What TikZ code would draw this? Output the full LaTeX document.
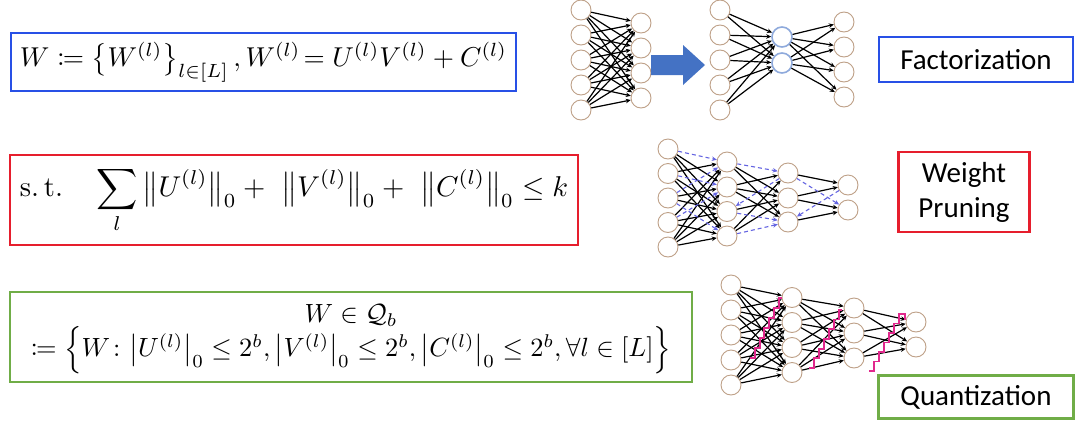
\documentclass[tikz,border=0pt]{standalone}
\usepackage{amsmath,amssymb,mathtools,graphicx}
\usepackage{fontspec}
\newfontfamily\calib{Carlito}
\usetikzlibrary{arrows.meta}
\definecolor{boxblue}{RGB}{40,80,230}
\definecolor{boxred}{RGB}{230,30,45}
\definecolor{boxgreen}{RGB}{112,173,71}
\definecolor{nodebrown}{RGB}{190,160,135}
\definecolor{midblue}{RGB}{143,170,220}
\definecolor{arrowblue}{RGB}{68,114,196}
\definecolor{dashblue}{RGB}{100,100,225}
\definecolor{stairpink}{RGB}{225,40,140}
\tikzset{
  nn/.style={circle,draw=nodebrown,line width=0.9pt,fill=white,minimum size=20pt,inner sep=0pt},
  mn/.style={circle,draw=midblue,line width=1.6pt,fill=white,minimum size=20pt,inner sep=0pt},
  edge/.style={draw=black,line width=1.2pt,-{Stealth[length=5pt,width=4.5pt]}},
  dedge/.style={draw=dashblue,line width=1.1pt,dash pattern=on 4pt off 3pt,-{Stealth[length=5pt,width=4.5pt]}},
  stair/.style={draw=stairpink,line width=1.9pt},
  fbox/.style={rectangle,line width=2.5pt,inner sep=0pt},
  lbox/.style={rectangle,line width=2.5pt,inner sep=0pt,font=\calib\fontsize{29}{35}\selectfont,align=center},
}
\begin{document}
\begin{tikzpicture}[x=1pt,y=-1pt]
\useasboundingbox (0,0) rectangle (1080,429);
% ---------- formulas ----------
\node[fbox,draw=boxblue,minimum width=505pt,minimum height=58pt] (f1) at (263.5,62)
 {\resizebox{487pt}{!}{$W \coloneqq \left\{W^{(l)}\right\}_{l\in[L]}, W^{(l)}\!= U^{(l)}V^{(l)} + C^{(l)}$}};
\node[fbox,draw=boxred,minimum width=568pt,minimum height=90pt] (f2) at (294,200)
 {\resizebox{548pt}{!}{$\displaystyle \mathrm{s.\,t.}\quad \sum_{l}\big\|U^{(l)}\big\|_0 +\ \big\|V^{(l)}\big\|_0 +\ \big\|C^{(l)}\big\|_0 \le k$}};
\node[fbox,draw=boxgreen,minimum width=682pt,minimum height=90pt] (f3) at (351,337)
 {\resizebox{667pt}{!}{$\begin{array}{c} W\in\mathcal{Q}_b\\[-2pt] \coloneqq\Bigl\{W\colon \big|U^{(l)}\big|_0\le 2^b, \big|V^{(l)}\big|_0\le 2^b, \big|C^{(l)}\big|_0\le 2^b, \forall l\in[L]\Bigr\}\end{array}$}};
% ---------- labels ----------
\node[lbox,draw=boxblue,minimum width=194pt,minimum height=45pt] (lf) at (976,59.5) {Factorization};
\node[lbox,draw=boxred,minimum width=131pt,minimum height=80pt] (lp) at (964,192) {Weight\\Pruning};
\node[lbox,draw=boxgreen,minimum width=195pt,minimum height=43pt] (lq) at (976,397) {Quantization};
% ---------- net 1 ----------
\foreach \y [count=\i] in {10,35,60,85,110} \node[nn] (a\i) at (581,\y) {};
\foreach \y [count=\i] in {23,48,73,98} \node[nn] (b\i) at (641,\y) {};
\foreach \i in {1,...,5} \foreach \j in {1,...,4} \draw[edge] (a\i) -- (b\j);
% block arrow
\fill[arrowblue] (651,55) -- (683,55) -- (683,45) -- (705,65) -- (683,85) -- (683,75) -- (651,75) -- cycle;
% ---------- net 2 ----------
\foreach \y [count=\i] in {10,35,60,85,110} \node[nn] (c\i) at (720,\y) {};
\foreach \y [count=\i] in {37,63} \node[mn] (m\i) at (782,\y) {};
\foreach \y [count=\i] in {22,47,72,97} \node[nn] (d\i) at (844,\y) {};
\foreach \i in {1,...,5} \foreach \j in {1,2} \draw[edge] (c\i) -- (m\j);
\foreach \i in {1,2} \foreach \j in {1,...,4} \draw[edge] (m\i) -- (d\j);
% ---------- net 3 (pruning) ----------
\foreach \y [count=\i] in {149,173.5,198,222.5,247} \node[nn] (pa\i) at (668,\y) {};
\foreach \y [count=\i] in {162,187,211.5,236} \node[nn] (pb\i) at (727,\y) {};
\foreach \y [count=\i] in {173,198,222} \node[nn] (pc\i) at (788,\y) {};
\foreach \y [count=\i] in {185,210} \node[nn] (pd\i) at (848,\y) {};
\foreach \i/\j in {1/2,1/3,1/4,2/1,2/3,2/4,3/2,3/3,4/1,4/3,4/4,5/1,5/2,5/3,5/4} \draw[edge] (pa\i) -- (pb\j);
\foreach \i/\j in {1/1,2/2,3/1,4/2,3/4} \draw[dedge] (pa\i) -- (pb\j);
\foreach \i/\j in {1/2,1/3,2/1,2/2,2/3,3/2,4/1,4/2} \draw[edge] (pb\i) -- (pc\j);
\foreach \i/\j in {1/1,4/3,3/3} \draw[dedge] (pb\i) -- (pc\j);
\draw[dedge] (pc1) -- (pb3);
\foreach \i/\j in {1/1,2/1,2/2,3/2} \draw[edge] (pc\i) -- (pd\j);
\draw[dedge] (pc1) -- (pd2);
\draw[dedge] (pd1) -- (pc3);
% ---------- net 4 (quantization) ----------
\foreach \y [count=\i] in {285,310,335,360,385} \node[nn] (qa\i) at (731,\y) {};
\foreach \y [count=\i] in {297.5,322.5,347.5,372.5} \node[nn] (qb\i) at (792,\y) {};
\foreach \y [count=\i] in {308,333,358} \node[nn] (qc\i) at (854,\y) {};
\foreach \y [count=\i] in {322,347} \node[nn] (qd\i) at (916,\y) {};
\foreach \i in {1,...,5} \foreach \j in {1,...,4} \draw[edge] (qa\i) -- (qb\j);
\foreach \i in {1,...,4} \foreach \j in {1,...,3} \draw[edge] (qb\i) -- (qc\j);
\foreach \i in {1,...,3} \foreach \j in {1,2} \draw[edge] (qc\i) -- (qd\j);
% staircases
\draw[stair] (750,358) \foreach \k in {1,...,6} { -- ++(4.8,0) -- ++(0,-10) } -- ++(3,0);
\draw[stair] (809,368) \foreach \k in {1,...,6} { -- ++(5,0) -- ++(0,-9.7) } -- ++(3,0);
\draw[stair] (869,371) \foreach \k in {1,...,6} { -- ++(5,0) -- ++(0,-9.5) } -- ++(6,0) -- ++(0,6);
\end{tikzpicture}
\end{document}
